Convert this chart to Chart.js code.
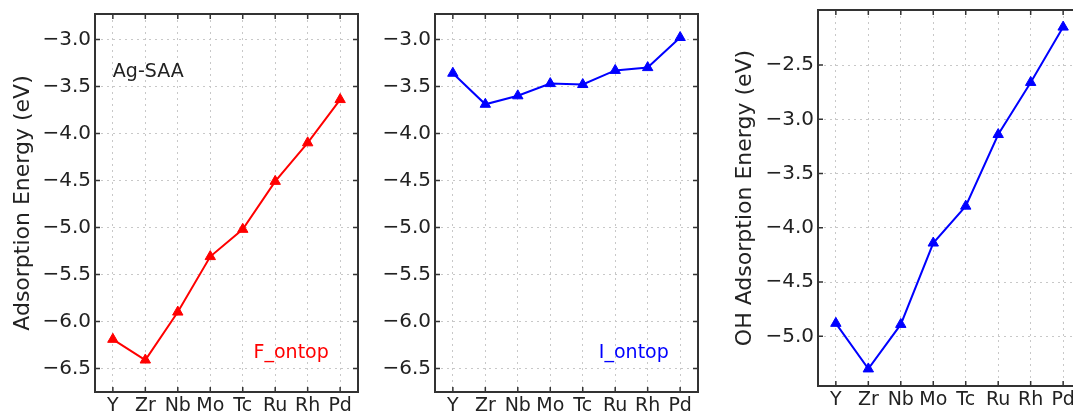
<!DOCTYPE html>
<html>
<head>
<meta charset="utf-8">
<script src="https://cdn.jsdelivr.net/npm/chart.js@4"></script>
<style>
  html, body { margin: 0; padding: 0; background: #fff; overflow: hidden; width: 1073px; height: 414px; }
  canvas { position: absolute; top: 0; }
</style>
</head>
<body>
<canvas id="chartF" width="370" height="414" style="left:0px"></canvas>
<canvas id="chartI" width="370" height="414" style="left:340px"></canvas>
<canvas id="chartOH" width="370" height="414" style="left:720px"></canvas>
<script>
// dopants along the x axis
const elements = ['Y', 'Zr', 'Nb', 'Mo', 'Tc', 'Ru', 'Rh', 'Pd'];

// adsorption energies (eV)
const fOntop = [-6.19, -6.41, -5.90, -5.31, -5.02, -4.51, -4.10, -3.64];
const iOntop = [-3.36, -3.69, -3.60, -3.47, -3.48, -3.33, -3.30, -2.98];
const ohOntop = [-4.88, -5.30, -4.89, -4.14, -3.80, -3.14, -2.66, -2.15];

// tick labels on the y axes
const energyTicks = [-6.5, -6.0, -5.5, -5.0, -4.5, -4.0, -3.5, -3.0];
const ohTicks = [-5.0, -4.5, -4.0, -3.5, -3.0, -2.5];

const FONT = 'DejaVu Sans';
const TEXT = '#222';

function fmt(v) {
  return (v < 0 ? '\u2212' : '') + Math.abs(v).toFixed(1);
}

// frame, inward ticks and text labels, matplotlib-like
function framePlugin(notes) {
  return {
    id: 'frame',
    afterDatasetsDraw(chart) {
      const { ctx, chartArea: a, scales: { x, y } } = chart;
      ctx.save();
      ctx.strokeStyle = '#333';
      ctx.lineWidth = 1.5;
      ctx.beginPath();
      x.ticks.forEach(t => {
        const px = x.getPixelForValue(t.value);
        ctx.moveTo(px, a.bottom); ctx.lineTo(px, a.bottom - 5);
        ctx.moveTo(px, a.top); ctx.lineTo(px, a.top + 5);
      });
      y.ticks.forEach(t => {
        const py = y.getPixelForValue(t.value);
        ctx.moveTo(a.left, py); ctx.lineTo(a.left + 5, py);
        ctx.moveTo(a.right, py); ctx.lineTo(a.right - 5, py);
      });
      ctx.stroke();
      ctx.lineWidth = 2;
      ctx.strokeRect(a.left, a.top, a.right - a.left, a.bottom - a.top);

      ctx.font = '19px "' + FONT + '"';
      ctx.textBaseline = 'middle';
      notes.forEach(n => {
        ctx.fillStyle = n.color;
        ctx.textAlign = n.align;
        ctx.fillText(n.text, x.getPixelForValue(n.x), y.getPixelForValue(n.y));
      });
      ctx.restore();
    }
  };
}

function makePanel(id, values, color, yTicks, yMin, yMax, title, box, notes) {
  const points = values.map((v, i) => ({ x: i, y: v }));
  return new Chart(document.getElementById(id), {
    type: 'line',
    data: {
      datasets: [{
        data: points,
        borderColor: color,
        backgroundColor: color,
        borderWidth: 2,
        pointStyle: 'triangle',
        pointRadius: 6,
        pointBorderWidth: 1,
        tension: 0
      }]
    },
    options: {
      responsive: false,
      animation: false,
      layout: { padding: { top: box.top, right: box.right, left: 0, bottom: 0 } },
      plugins: { legend: { display: false }, tooltip: { enabled: false } },
      scales: {
        x: {
          type: 'linear',
          min: -0.55,
          max: 7.55,
          afterBuildTicks: s => { s.ticks = elements.map((_, i) => ({ value: i })); },
          afterFit: s => {
            s.height = box.xh;
            s.paddingLeft = 0; s.paddingRight = 0;
          },
          ticks: {
            callback: v => elements[v],
            font: { family: FONT, size: 19 },
            color: TEXT,
            padding: 3,
            maxRotation: 0,
            autoSkip: false
          },
          grid: { color: '#c8c8c8', lineWidth: 1, drawTicks: false },
          border: { display: false, dash: [2, 4] }
        },
        y: {
          min: yMin,
          max: yMax,
          afterBuildTicks: s => { s.ticks = yTicks.map(v => ({ value: v })); },
          afterFit: s => {
            s.width = box.yw;
            s.paddingTop = 0; s.paddingBottom = 0;
          },
          ticks: {
            callback: v => fmt(v),
            font: { family: FONT, size: 20 },
            color: TEXT,
            padding: 4
          },
          title: {
            display: !!title,
            text: title,
            font: { family: FONT, size: 22 },
            color: TEXT,
            padding: { top: box.titlePad, bottom: 0 }
          },
          grid: { color: '#c8c8c8', lineWidth: 1, drawTicks: false },
          border: { display: false, dash: [2, 4] }
        }
      }
    },
    plugins: [framePlugin(notes)]
  });
}

makePanel('chartF', fOntop, '#ff0000', energyTicks, -6.75, -2.73,
  'Adsorption Energy (eV)',
  { top: 14, right: 12, yw: 95, xh: 22, titlePad: 10 },
  [
    { text: 'Ag-SAA', x: 0, y: -3.35, color: TEXT, align: 'left' },
    { text: 'F_ontop', x: 6.65, y: -6.34, color: '#ff0000', align: 'right' }
  ]);

makePanel('chartI', iOntop, '#0000ff', energyTicks, -6.75, -2.73,
  '',
  { top: 14, right: 12, yw: 95, xh: 22, titlePad: 10 },
  [
    { text: 'I_ontop', x: 6.65, y: -6.34, color: '#0000ff', align: 'right' }
  ]);

makePanel('chartOH', ohOntop, '#0000ff', ohTicks, -5.4575, -1.9925,
  'OH Adsorption Energy (eV)',
  { top: 10, right: 9, yw: 98, xh: 28, titlePad: 12 },
  []);
</script>
</body>
</html>
